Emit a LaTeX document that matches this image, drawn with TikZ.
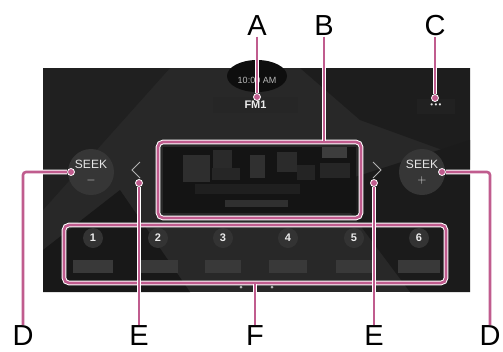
\documentclass[tikz,border=0pt]{standalone}
\usepackage{fontspec}
\setmainfont{Liberation Sans}
\usepackage{tikz}
\usetikzlibrary{shapes,arrows,fit,positioning}

\definecolor{leadpink}{RGB}{192,92,142}
\definecolor{screenbg}{RGB}{40,40,40}

\begin{document}
\begin{tikzpicture}[x=1pt, y=-1pt,
  lab/.style={font=\fontsize{29}{29}\selectfont, inner sep=1pt},
  leader/.style={draw=leadpink, line width=2.6pt, rounded corners=3pt, preaction={draw=white, line width=4.6pt}},
  hlbox/.style={rectangle, draw=leadpink, line width=2.6pt, rounded corners=5pt, inner sep=0pt, preaction={draw=white, line width=4.6pt}},
  dot/.style={circle, fill=leadpink, draw=white, line width=0.8pt, inner sep=0pt, minimum size=7pt},
  seek/.style={circle, fill=gray!42!black, minimum size=46pt, inner sep=0pt, align=center, text=gray!20, font=\fontsize{12}{15}\selectfont},
  preset/.style={circle, fill=gray!40!black, minimum size=20pt, inner sep=0pt, text=gray!15, font=\bfseries\fontsize{11}{11}\selectfont},
  blur/.style={fill=gray!45!black},
  chev/.style={draw=gray!60, line width=1pt}
]
  \useasboundingbox (0,0) rectangle (503,351);

  % -- Screen and background texture --
  \fill[screenbg] (43,68) rectangle (470,292);
  \fill[gray!25!black] (43,68) -- (170,68) -- (43,210) -- cycle;
  \fill[gray!23!black] (300,68) -- (470,68) -- (470,160) -- (360,120) -- cycle;
  \fill[gray!21!black] (330,185) -- (470,140) -- (470,292) -- (410,292) -- cycle;
  \fill[gray!19!black] (43,250) -- (120,190) -- (190,292) -- (43,292) -- cycle;
  \fill[gray!11!black] (257,76) ellipse (30 and 16);

  % -- Top bar --
  \node[text=gray!55, font=\fontsize{9}{9}\selectfont] (clock) at (257,80) {10:00 AM};
  \node[fill=gray!30!black, minimum width=85pt, minimum height=16pt, inner sep=0pt,
        text=gray!15, font=\bfseries\fontsize{11}{11}\selectfont] (band) at (255.5,105) {FM1};
  \node[fill=gray!26!black, minimum width=38pt, minimum height=15pt, inner sep=0pt,
        text=gray!20, font=\fontsize{8}{8}\selectfont] (more) at (436,106) {\textbullet\,\textbullet\,\textbullet};

  % -- Seek buttons and arrows --
  \node[seek] (seekm) at (91,172) {SEEK\\$-$};
  \node[seek] (seekp) at (422,172) {SEEK\\$+$};
  \coordinate (prev) at (136,170);
  \coordinate (next) at (377,170);
  \draw[chev] (prev) ++(4,-8) -- ++(-8,8) -- ++(8,8);
  \draw[chev] (next) ++(-4,-8) -- ++(8,8) -- ++(-8,8);

  % -- Station info (blurred) --
  \fill[gray!16!black] (163,147) rectangle (356,213);
  \fill[gray!36!black] (183,155) rectangle (210,182);
  \fill[gray!33!black] (213,150) rectangle (232,168);
  \fill[gray!30!black] (212,168) rectangle (240,180);
  \fill[gray!38!black] (250,155) rectangle (265,178);
  \fill[gray!34!black] (277,152) rectangle (297,172);
  \fill[gray!28!black] (297,165) rectangle (315,180);
  \fill[gray!48!black] (322,147) rectangle (347,158);
  \fill[gray!30!black] (320,163) rectangle (350,178);
  \fill[gray!24!black] (195,184) rectangle (300,194);
  \fill[gray!38!black] (225,200) rectangle (288,207);

  % -- Presets --
  \node[preset] (p1) at (93,238) {1};
  \node[preset] (p2) at (158,238) {2};
  \node[preset] (p3) at (223,238) {3};
  \node[preset] (p4) at (288,238) {4};
  \node[preset] (p5) at (354,238) {5};
  \node[preset] (p6) at (419,238) {6};
  \fill[blur] (73,260) rectangle (113,273);
  \fill[blur] (138,260) rectangle (178,273);
  \fill[blur] (205,260) rectangle (241,273);
  \fill[blur] (269,260) rectangle (307,273);
  \fill[blur] (336,260) rectangle (372,273);
  \fill[blur] (398,260) rectangle (440,273);
  \fill[gray!60] (241,287) circle (1.5);
  \fill[gray!60] (272,287) circle (1.5);

  % -- Highlight boxes --
  \node[hlbox, minimum width=203pt, minimum height=76pt] (boxB) at (259.5,180) {};
  \node[hlbox, minimum width=382pt, minimum height=58pt] (boxF) at (255,254) {};

  % -- Labels --
  \node[lab] (labA) at (257,25.5) {A};
  \node[lab] (labB) at (324,25.5) {B};
  \node[lab] (labC) at (435,25.5) {C};
  \node[lab] (labDl) at (23,336) {D};
  \node[lab] (labEl) at (139,336) {E};
  \node[lab] (labF) at (255,336) {F};
  \node[lab] (labEr) at (374,336) {E};
  \node[lab] (labDr) at (490,336) {D};

  % -- Leader lines --
  \node[dot] (dotA) at (257,97) {};
  \node[dot] (dotC) at (435,98) {};
  \node[dot] (dotDl) at (71,172) {};
  \node[dot] (dotDr) at (442,172) {};
  \node[dot] (dotEl) at (139,183) {};
  \node[dot] (dotEr) at (374,183) {};

  \draw[leader] (labA.south) -- (dotA);
  \draw[leader] (labB.south) -- (labB.south |- boxB.north);
  \draw[leader] (labC.south) -- (dotC);
  \draw[leader] (labDl.north) |- (dotDl);
  \draw[leader] (labDr.north) |- (dotDr);
  \draw[leader] (labEl.north) -- (dotEl);
  \draw[leader] (labEr.north) -- (dotEr);
  \draw[leader] (labF.north) -- (boxF.south);

\end{tikzpicture}
\end{document}
